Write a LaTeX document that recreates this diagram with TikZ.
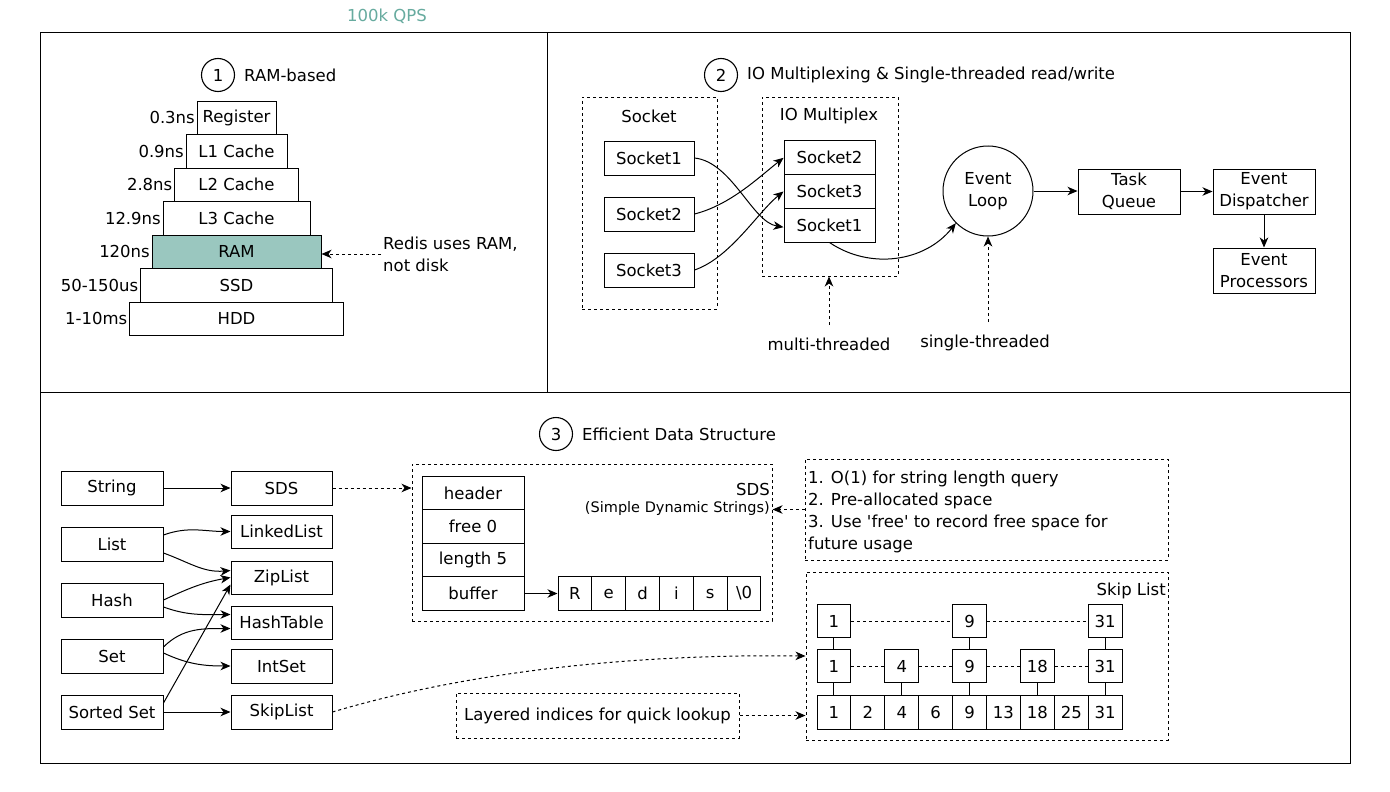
\documentclass[tikz,border=0pt]{standalone}
\usepackage{fontspec}
\setmainfont{DejaVu Sans}
\usetikzlibrary{arrows.meta,calc}
\definecolor{ramc}{HTML}{9AC7BF}
\definecolor{qpsc}{HTML}{67AB9F}
\newcommand{\myfs}{\fontsize{16.5}{22}\selectfont}
\newcommand{\mysmall}{\fontsize{14.5}{18}\selectfont}
\begin{document}
\begin{tikzpicture}[x=1pt,y=-1pt,font=\myfs,
  bx/.style={draw, line width=1pt, inner sep=1pt, minimum height=33.5pt},
  cell/.style={draw, line width=1pt, inner sep=0pt, minimum width=33.9pt, minimum height=33.5pt},
  dsh/.style={dash pattern=on 3pt off 3pt},
  grp/.style={draw, line width=1pt, dsh, inner sep=0pt},
  arr/.style={-{Stealth[length=10pt,width=8.5pt,inset=3pt]}, line width=1pt},
  darr/.style={arr, dsh},
  circ/.style={draw, circle, line width=1.1pt, minimum size=33pt, inner sep=0pt},
  lbl/.style={inner sep=1.5pt}
]
\useasboundingbox (0,0) rectangle (1390,792);
\fill[white] (0,0) rectangle (1390,792);

\node[text=qpsc, inner sep=0pt] (qps) at (387,16) {100k QPS};

% frame
\draw[line width=1pt] (40,33) rectangle (1350,763);
\draw[line width=1pt] (547,33) -- (547,392);
\draw[line width=1pt] (40,392) -- (1350,392);

% ---------- Section 1
\node[circ] (c1) at (218,75) {1};
\node[anchor=west, inner sep=0pt] (t1) at (244,75) {RAM-based};
\node[bx, minimum width=79pt] (reg) at (236.5,117.75) {Register};
\node[bx, minimum width=101pt] (l1) at (236.5,151.25) {L1 Cache};
\node[bx, minimum width=124pt] (l2) at (236.5,184.75) {L2 Cache};
\node[bx, minimum width=147pt] (l3) at (236.5,218.25) {L3 Cache};
\node[bx, fill=ramc, minimum width=169pt] (ram) at (236.5,251.75) {RAM};
\node[bx, minimum width=192pt] (ssd) at (236.5,285.25) {SSD};
\node[bx, minimum width=214pt] (hdd) at (236.5,318.75) {HDD};
\node[lbl, anchor=east] (n0) at (reg.west) {0.3ns};
\node[lbl, anchor=east] (n1) at (l1.west) {0.9ns};
\node[lbl, anchor=east] (n2) at (l2.west) {2.8ns};
\node[lbl, anchor=east] (n3) at (l3.west) {12.9ns};
\node[lbl, anchor=east] (n4) at (ram.west) {120ns};
\node[lbl, anchor=east] (n5) at (ssd.west) {50-150us};
\node[lbl, anchor=east] (n6) at (hdd.west) {1-10ms};
\node[anchor=west, align=left, inner sep=2pt] (rtxt) at (381,254) {Redis uses RAM,\\not disk};
\draw[darr] (rtxt.west) -- (rtxt.west -| ram.east);

% ---------- Section 2
\node[circ] (c2) at (721,75) {2};
\node[anchor=west, inner sep=0pt] (t2) at (747,75) {IO Multiplexing \& Single-threaded read/write};
\node[grp, minimum width=135pt, minimum height=212pt] (sockgrp) at (649.5,203) {};
\node (socklbl) at (649,116) {Socket};
\node[bx, minimum width=90pt, minimum height=34pt] (s1) at (649,158) {Socket1};
\node[bx, minimum width=90pt, minimum height=34pt] (s2) at (649,214) {Socket2};
\node[bx, minimum width=90pt, minimum height=34pt] (s3) at (649,270) {Socket3};
\node[grp, minimum width=136pt, minimum height=179pt] (iogrp) at (830,186.5) {};
\node (iolbl) at (829,116) {IO Multiplex};
\node[bx, minimum width=91pt, minimum height=33.67pt] (io2) at (829.5,157.83) {Socket2};
\node[bx, minimum width=91pt, minimum height=33.67pt] (io3) at (829.5,191.5) {Socket3};
\node[bx, minimum width=91pt, minimum height=33.67pt] (io1) at (829.5,225.17) {Socket1};
\draw[arr] (s1.east) .. controls (732,162) and (752,222) .. ($(io1.west)+(0,2)$);
\draw[arr] (s2.east) .. controls (730,205) and (758,178) .. (io2.west);
\draw[arr] (s3.east) .. controls (730,258) and (758,212) .. (io3.west);
\node[draw, circle, line width=1pt, minimum size=90pt, inner sep=0pt, align=center] (eloop) at (988,191) {Event\\Loop};
\draw[arr] (io1.south) .. controls (870,270) and (925,262) .. (eloop.225);
\node[bx, minimum width=102pt, minimum height=45pt, align=center] (tq) at (1129,191.5) {Task\\Queue};
\node[bx, minimum width=102pt, minimum height=45pt, align=center] (ed) at (1264,191.5) {Event\\Dispatcher};
\node[bx, minimum width=102pt, minimum height=45pt, align=center] (ep) at (1264,270.5) {Event\\Processors};
\draw[arr] (eloop.east) -- (eloop.east -| tq.west);
\draw[arr] (tq.east) -- (ed.west);
\draw[arr] (ed.south) -- (ep.north);
\node (mt) at (829,344) {multi-threaded};
\coordinate (mtop) at (829,325);
\draw[darr] (mtop) -- (mtop |- iogrp.south);
\node (st) at (985,343) {single-threaded};
\coordinate (stop) at (988,322);
\draw[darr] (stop) -- (eloop.south);

% ---------- Section 3
\node[circ] (c3) at (556,434) {3};
\node[anchor=west, inner sep=0pt] (t3) at (582,434) {Efficient Data Structure};
\node[bx, minimum width=102pt, minimum height=34pt] (str) at (112,488) {String};
\node[bx, minimum width=102pt, minimum height=34pt] (lst) at (112,544) {List};
\node[bx, minimum width=102pt, minimum height=34pt] (hsh) at (112,600) {Hash};
\node[bx, minimum width=102pt, minimum height=34pt] (set) at (112,656) {Set};
\node[bx, minimum width=102pt, minimum height=34pt] (sst) at (112,712) {Sorted Set};
\node[bx, minimum width=101pt, minimum height=34pt] (sds) at (281.5,488) {SDS};
\node[bx, minimum width=101pt, minimum height=33pt] (ll) at (281.5,531.5) {LinkedList};
\node[bx, minimum width=101pt, minimum height=33pt] (zip) at (281.5,577.5) {ZipList};
\node[bx, minimum width=101pt, minimum height=33pt] (ht) at (281.5,622.5) {HashTable};
\node[bx, minimum width=101pt, minimum height=34pt] (ints) at (281.5,666) {IntSet};
\node[bx, minimum width=101pt, minimum height=34pt] (skl) at (281.5,712) {SkipList};
\draw[arr] (str) -- (sds);
\draw[arr] ($(lst.east)+(0,-9)$) to[out=20,in=180] (ll.west);
\draw[arr] ($(lst.east)+(0,9)$) to[out=-20,in=185] ($(zip.west)+(0,-7)$);
\draw[arr] (hsh.east) to[out=25,in=190] (zip.west);
\draw[arr] ($(hsh.east)+(0,7)$) to[out=-20,in=180] ($(ht.west)+(0,-8)$);
\draw[arr] ($(set.east)+(0,-9)$) to[out=45,in=180] ($(ht.west)+(0,6)$);
\draw[arr] ($(set.east)+(0,-3)$) to[out=-25,in=180] (ints.west);
\draw[arr] ($(sst.east)+(0,-9)$) -- ($(zip.west)+(0,7)$);
\draw[arr] (sst) -- (skl);

% SDS structure
\node[grp, minimum width=360pt, minimum height=157pt] (sdsgrp) at (592,542.5) {};
\draw[darr] (sds.east) -- (sds.east -| sdsgrp.west);
\node[bx, minimum width=102pt] (hdr) at (473,493) {header};
\node[bx, minimum width=102pt] (fre) at (473,526.5) {free 0};
\node[bx, minimum width=102pt] (len) at (473,560) {length 5};
\node[bx, minimum width=102pt] (buf) at (473,593.5) {buffer};
\foreach \ch [count=\i] in {R,e,d,i,s,\textbackslash 0}
  \node[cell, minimum width=33.83pt] (ch\i) at ({558+33.83*(\i-0.5)},593.5) {\ch};
\draw[arr] (buf.east) -- (ch1.west);
\node[anchor=east, inner sep=0pt] (sdst) at (770,489) {SDS};
\node[anchor=east, inner sep=0pt, font=\mysmall] (sdss) at (770,508) {(Simple Dynamic Strings)};

% notes
\node[grp, minimum width=363pt, minimum height=101pt] (notes) at (986.5,509.5) {};
\node[anchor=west, align=left, inner sep=0pt] (notetxt) at (808,512) {1. O(1) for string length query\\2. Pre-allocated space\\3. Use \textquotesingle free\textquotesingle{} to record free space for\\future usage};
\draw[darr] (notes.west) -- (notes.west -| sdsgrp.east);

% skip list
\node[grp, minimum width=362pt, minimum height=168pt] (skgrp) at (987,656) {};
\node[anchor=east, inner sep=0pt] (sklbl) at (1166,591) {Skip List};
\foreach \v [count=\i] in {1,2,4,6,9,13,18,25,31}
  \node[cell] (b\i) at ({817+33.9*(\i-0.5)},712.5) {\v};
\foreach \i/\v in {1/1,3/4,5/9,7/18,9/31}
  \node[cell] (m\i) at ({817+33.9*(\i-0.5)},666) {\v};
\foreach \i/\v in {1/1,5/9,9/31}
  \node[cell] (t\i) at ({817+33.9*(\i-0.5)},621) {\v};
\draw[line width=1pt, dsh] (t1.east) -- (t5.west);
\draw[line width=1pt, dsh] (t5.east) -- (t9.west);
\draw[line width=1pt, dsh] (m1.east) -- (m3.west);
\draw[line width=1pt, dsh] (m3.east) -- (m5.west);
\draw[line width=1pt, dsh] (m5.east) -- (m7.west);
\draw[line width=1pt, dsh] (m7.east) -- (m9.west);
\foreach \i in {1,5,9} \draw[line width=1pt] (t\i.south) -- (m\i.north);
\foreach \i in {1,3,5,7,9} \draw[line width=1pt] (m\i.south) -- (b\i.north);
\draw[darr] (skl.east) .. controls (480,668) and (650,654) .. (skgrp.west);
\node[grp, minimum width=283pt, minimum height=45pt] (lay) at (597.5,715.5) {Layered indices for quick lookup};
\draw[darr] (lay.east) -- (lay.east -| skgrp.west);
\end{tikzpicture}
\end{document}
